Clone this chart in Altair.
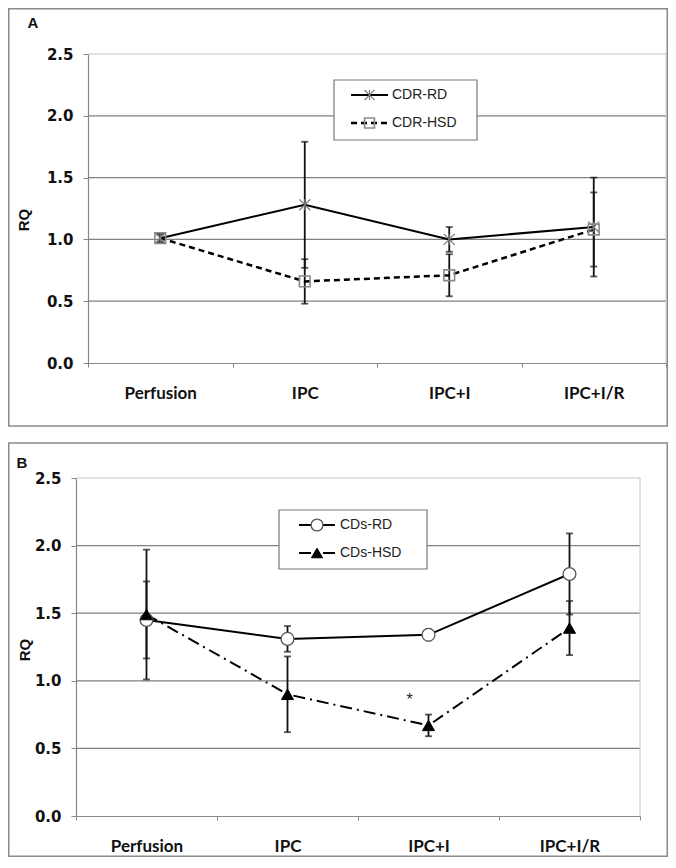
import altair as alt
import pandas as pd

# ---------------- data ----------------
categories = ["Perfusion", "IPC", "IPC+I", "IPC+I/R"]

a_series = ["CDR-RD", "CDR-HSD"]
a_rd_mean = [1.01, 1.28, 1.00, 1.10]
a_rd_err = [0.03, 0.51, 0.10, 0.40]
a_hsd_mean = [1.01, 0.66, 0.71, 1.08]
a_hsd_err = [0.04, 0.18, 0.17, 0.30]

b_series = ["CDs-RD", "CDs-HSD"]
b_rd_mean = [1.45, 1.31, 1.34, 1.79]
b_rd_err = [0.285, 0.095, 0.04, 0.30]
b_hsd_mean = [1.49, 0.90, 0.67, 1.39]
b_hsd_err = [0.48, 0.28, 0.08, 0.20]

y_ticks = [0.0, 0.5, 1.0, 1.5, 2.0, 2.5]
grid_values = [0.5, 1.0, 1.5, 2.0]
star_text = ["*"]
star_category = ["IPC+I"]
star_value = [0.86]
panel_letters = ["A", "B"]
y_title = "RQ"

W, H = 660, 849


def long_df(names, means_list, errs_list):
    rows = []
    for name, means, errs in zip(names, means_list, errs_list):
        for c, m, e in zip(categories, means, errs):
            rows.append({"series": name, "cat": c, "mean": m, "lo": m - e, "hi": m + e})
    return pd.DataFrame(rows)


one = alt.Data(values=[{}])


def make_panel(df, names, styles, geo, legend, letter, letter_xy, title_xy, extra=None):
    left, right, top, bottom = geo

    X = alt.X(
        "cat:N", sort=categories, bandPosition=0.5,
        scale=alt.Scale(type="band", domain=categories, paddingInner=0,
                        paddingOuter=0, range=[left, right]),
        axis=alt.Axis(
            title=None, orient="bottom", offset=bottom - H, tickBand="extent",
            labelAngle=0, labelFont="Lato", labelFontWeight="bold", labelFontSize=17,
            labelColor="#111", labelPadding=18, tickSize=4, tickColor="#888",
            tickWidth=1, domainColor="#888", domainWidth=1.2, grid=False,
        ),
    )

    def Y(field):
        return alt.Y(
            f"{field}:Q",
            scale=alt.Scale(domain=[0, 2.5], nice=False, zero=True, range=[bottom, top]),
            axis=alt.Axis(
                values=y_ticks, format=".1f", title=None, orient="left", offset=-left,
                labelFont="DejaVu Sans", labelFontWeight="bold", labelFontSize=15,
                labelColor="#111", labelPadding=10, tickSize=5, tickColor="#888",
                tickWidth=1, domainColor="#888", domainWidth=1.2, grid=False,
            ),
        )

    base = alt.Chart(df)
    layers = []

    # outer frame of the panel
    fx0, fx1, fy0, fy1 = legend["frame"]
    layers.append(
        alt.Chart(one).mark_rect(fill="white", fillOpacity=0, stroke="#8a8a8a", strokeWidth=1.5)
        .encode(x=alt.value(fx0), x2=alt.value(fx1), y=alt.value(fy0), y2=alt.value(fy1))
    )
    # horizontal gridlines (positioned by the y scale)
    grid_df = pd.DataFrame({"g": grid_values})
    layers.append(
        alt.Chart(grid_df).mark_rule(color="#808080", strokeWidth=1.2)
        .encode(y=Y("g"), x=alt.value(left), x2=alt.value(right))
    )
    # light plot-area border: top and right
    layers.append(
        alt.Chart(one).mark_rule(color="#c4c4c4", strokeWidth=1)
        .encode(x=alt.value(left), x2=alt.value(right), y=alt.value(top))
    )
    layers.append(
        alt.Chart(one).mark_rule(color="#c4c4c4", strokeWidth=1)
        .encode(x=alt.value(right), y=alt.value(top), y2=alt.value(bottom))
    )
    # error bars
    layers.append(base.mark_rule(color="#111", strokeWidth=1.8).encode(
        x=X, y=Y("lo"), y2="hi:Q"))
    layers.append(base.mark_tick(color="#111", thickness=1.8, size=7).encode(x=X, y=Y("lo")))
    layers.append(base.mark_tick(color="#111", thickness=1.8, size=7).encode(x=X, y=Y("hi")))
    # lines
    for name, st in zip(names, styles):
        sub = base.transform_filter(alt.datum.series == name)
        kw = dict(color="#000", strokeWidth=st["lw"])
        if st["dash"]:
            kw["strokeDash"] = st["dash"]
        layers.append(sub.mark_line(**kw).encode(x=X, y=Y("mean")))
    # markers
    for name, st in zip(names, styles):
        sub = base.transform_filter(alt.datum.series == name)
        layers.append(sub.mark_point(
            shape=st["shape"], size=st["size"], filled=st["filled"], fill=st["fill"],
            stroke=st["stroke"], strokeWidth=st["sw"], opacity=1,
            fillOpacity=0 if st["fill"] == "none" else 1,
        ).encode(x=X, y=Y("mean")))

    # legend box
    bx0, bx1, by0, by1 = legend["box"]
    lx0, lx1 = legend["line"]
    tx = legend["text_x"]
    layers.append(
        alt.Chart(one).mark_rect(fill="white", stroke="#777", strokeWidth=1.2)
        .encode(x=alt.value(bx0), x2=alt.value(bx1), y=alt.value(by0), y2=alt.value(by1))
    )
    for name, st, yy in zip(names, styles, legend["ys"]):
        kw = dict(color="#000", strokeWidth=st["lw"])
        if st["dash"]:
            kw["strokeDash"] = st["dash"]
        layers.append(alt.Chart(one).mark_rule(**kw).encode(
            x=alt.value(lx0), x2=alt.value(lx1), y=alt.value(yy)))
        layers.append(alt.Chart(one).mark_point(
            shape=st["shape"], size=st["size"] * 0.85, filled=st["filled"], fill=st["fill"],
            stroke=st["stroke"], strokeWidth=st["sw"], opacity=1,
            fillOpacity=0 if st["fill"] == "none" else 1,
        ).encode(x=alt.value((lx0 + lx1) / 2), y=alt.value(yy)))
        layers.append(alt.Chart(one).mark_text(
            text=name, font="Liberation Sans", fontSize=14, color="#222",
            align="left", baseline="middle").encode(x=alt.value(tx), y=alt.value(yy)))

    # panel letter and y title
    layers.append(alt.Chart(one).mark_text(
        text=letter, font="Liberation Sans", fontSize=15, fontWeight="bold",
        color="#111", align="center", baseline="middle").encode(
        x=alt.value(letter_xy[0]), y=alt.value(letter_xy[1])))
    layers.append(alt.Chart(one).mark_text(
        text=y_title, font="Liberation Sans", fontSize=15, fontWeight="bold",
        color="#111", align="center", baseline="middle", angle=270).encode(
        x=alt.value(title_xy[0]), y=alt.value(title_xy[1])))

    if extra is not None:
        layers.append(extra(X, Y))
    return alt.layer(*layers)


a_df = long_df(a_series, [a_rd_mean, a_hsd_mean], [a_rd_err, a_hsd_err])
b_df = long_df(b_series, [b_rd_mean, b_hsd_mean], [b_rd_err, b_hsd_err])

a_styles = [
    dict(lw=2, dash=None, shape="M-1,-1L1,1M-1,1L1,-1M0,-1L0,1", size=120,
         filled=False, fill="none", stroke="#777", sw=1.2),
    dict(lw=2.5, dash=[6, 4], shape="square", size=115,
         filled=False, fill="none", stroke="#8a8a8a", sw=1.6),
]
b_styles = [
    dict(lw=2, dash=None, shape="circle", size=165,
         filled=False, fill="white", stroke="#555", sw=1.3),
    dict(lw=2, dash=[12, 5, 2, 5], shape="triangle-up", size=145,
         filled=True, fill="#000", stroke="#000", sw=1),
]

star_df = pd.DataFrame({"cat": star_category, "val": star_value, "t": star_text})


def star_layer(X, Y):
    return alt.Chart(star_df).mark_text(
        fontSize=16, color="#222", dx=-19, baseline="middle", font="Liberation Sans"
    ).encode(x=X, y=Y("val"), text="t:N")


# geometry relative to the chart origin (page offset 8px)
A = make_panel(
    a_df, a_series, a_styles, geo=(80, 658, 46, 355),
    legend=dict(frame=(0.75, 659.25, 0.75, 418), box=(326, 469, 72, 132),
                line=(343, 380), text_x=384, ys=(87, 115)),
    letter=panel_letters[0], letter_xy=(25, 15), title_xy=(16, 212),
)
B = make_panel(
    b_df, b_series, b_styles, geo=(68, 632, 470, 808),
    legend=dict(frame=(0.75, 659.25, 435, 848.25), box=(271, 419, 502, 561),
                line=(291, 327), text_x=332, ys=(517, 545)),
    letter=panel_letters[1], letter_xy=(14, 455), title_xy=(17, 642),
    extra=star_layer,
)

chart = (
    alt.layer(A, B)
    .resolve_scale(x="independent", y="independent")
    .properties(width=W, height=H, autosize=alt.AutoSizeParams(type="none"),
                padding=0, background="white")
    .configure_view(stroke=None)
)

chart.save("out.html", embed_options={"renderer": "svg", "actions": False})
